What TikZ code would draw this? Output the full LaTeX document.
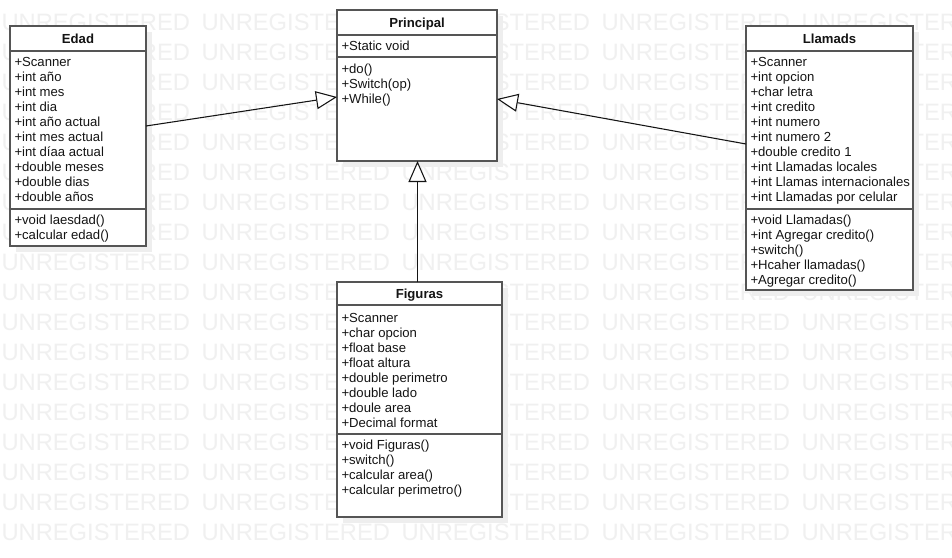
\documentclass[tikz,border=0pt]{standalone}
\usepackage{fontspec}
\setmainfont{Liberation Sans}
\usetikzlibrary{arrows.meta,shadows}
\definecolor{wmgray}{RGB}{240,240,240}
\definecolor{bordergray}{RGB}{85,85,85}
\definecolor{shadowgray}{RGB}{238,238,238}
\definecolor{txtcol}{RGB}{20,20,20}
\tikzset{
  umlbox/.style={draw=bordergray, line width=1pt, fill=white, inner sep=0pt, outer sep=0pt,
    anchor=north west,
    drop shadow={shadow xshift=4.5pt, shadow yshift=-4.5pt, fill=shadowgray, opacity=1}},
  sepline/.style={draw=bordergray, line width=1pt},
  txt/.style={inner sep=0pt, outer sep=0pt, anchor=base west, text=txtcol, font=\fontsize{9.85pt}{11.25pt}\selectfont},
  ttl/.style={inner sep=0pt, outer sep=0pt, anchor=base, text=txtcol, font=\fontsize{9.85pt}{11.25pt}\selectfont\bfseries},
  wm/.style={inner sep=0pt, outer sep=0pt, anchor=west, text=wmgray, font=\fontsize{17.8pt}{19pt}\selectfont},
  inh/.style={draw=txtcol, line width=0.8pt, -{Triangle[open, length=15.75pt, width=13.5pt, fill=white]}}
}
\begin{document}
\begin{tikzpicture}[x=0.75pt, y=-0.75pt]
\useasboundingbox (0,0) rectangle (952,557);
\begin{scope}
\clip (0,0) rectangle (952,557);
\fill[white] (0,0) rectangle (952,557);
\foreach \r in {0,...,17}{
  \foreach \c in {0,...,4}{
    \node[wm] (wm-\r-\c) at (\c*200+1.5, 22+\r*30) {UNREGISTERED};
  }
}
\end{scope}

% Boxes
\node[umlbox, minimum width=102pt, minimum height=165pt] (edad) at (10,26) {};
\node[umlbox, minimum width=120pt, minimum height=113.25pt] (pri) at (337,10) {};
\node[umlbox, minimum width=125.25pt, minimum height=198pt] (lla) at (746,26) {};
\node[umlbox, minimum width=123.75pt, minimum height=176.25pt] (fig) at (337,282) {};

% Separators
\draw[sepline] (edad.west |- 0,51) -- (edad.east |- 0,51);
\draw[sepline] (edad.west |- 0,209) -- (edad.east |- 0,209);
\draw[sepline] (pri.west |- 0,35) -- (pri.east |- 0,35);
\draw[sepline] (pri.west |- 0,57) -- (pri.east |- 0,57);
\draw[sepline] (lla.west |- 0,51) -- (lla.east |- 0,51);
\draw[sepline] (lla.west |- 0,209) -- (lla.east |- 0,209);
\draw[sepline] (fig.west |- 0,305) -- (fig.east |- 0,305);
\draw[sepline] (fig.west |- 0,434) -- (fig.east |- 0,434);

% Titles
\node[ttl] (edad-t) at (78,43.5) {Edad};
\node[ttl] (pri-t) at (417,27.3) {Principal};
\node[ttl] (lla-t) at (829.5,43.3) {Llamads};
\node[ttl] (fig-t) at (419.5,298.6) {Figuras};

% Edad
\foreach [count=\i from 0] \t in {+Scanner,+int año,+int mes,+int dia,+int año actual,+int mes actual,+int díaa actual,+double meses,+double dias,+double años}
  \node[txt] (edad-a\i) at (14.5, 66.3+15*\i) {\t};
\foreach [count=\i from 0] \t in {+void laesdad(),+calcular edad()}
  \node[txt] (edad-m\i) at (14.5, 224.6+15*\i) {\t};

% Principal
\node[txt] (pri-a0) at (341.5, 50.3) {+Static void};
\foreach [count=\i from 0] \t in {+do(),+Switch(op),+While()}
  \node[txt] (pri-m\i) at (341.5, 73.7+15*\i) {\t};

% Llamads
\foreach [count=\i from 0] \t in {+Scanner,+int opcion,+char letra,+int credito,+int numero,+int numero 2,+double credito 1,+int Llamadas locales,+int Llamas internacionales,+int Llamadas por celular}
  \node[txt] (lla-a\i) at (750.5, 66.3+15*\i) {\t};
\foreach [count=\i from 0] \t in {+void Llamadas(),+int Agregar credito(),+switch(),+Hcaher llamadas(),+Agregar credito()}
  \node[txt] (lla-m\i) at (750.5, 224.6+15*\i) {\t};

% Figuras
\foreach [count=\i from 0] \t in {+Scanner,+char opcion,+float base,+float altura,+double perimetro,+double lado,+doule area,+Decimal format}
  \node[txt] (fig-a\i) at (341.5, 322.3+15*\i) {\t};
\foreach [count=\i from 0] \t in {+void Figuras(),+switch(),+calcular area(),+calcular perimetro()}
  \node[txt] (fig-m\i) at (341.5, 449.6+15*\i) {\t};

% Inheritance arrows
\draw[inh] (edad.east |- 0,126) -- (pri.west |- 0,97);
\draw[inh] (lla.west |- 0,144) -- (pri.east |- 0,99);
\draw[inh] (fig.north -| 417.5,0) -- (pri.south -| 417.5,0);
\end{tikzpicture}
\end{document}
